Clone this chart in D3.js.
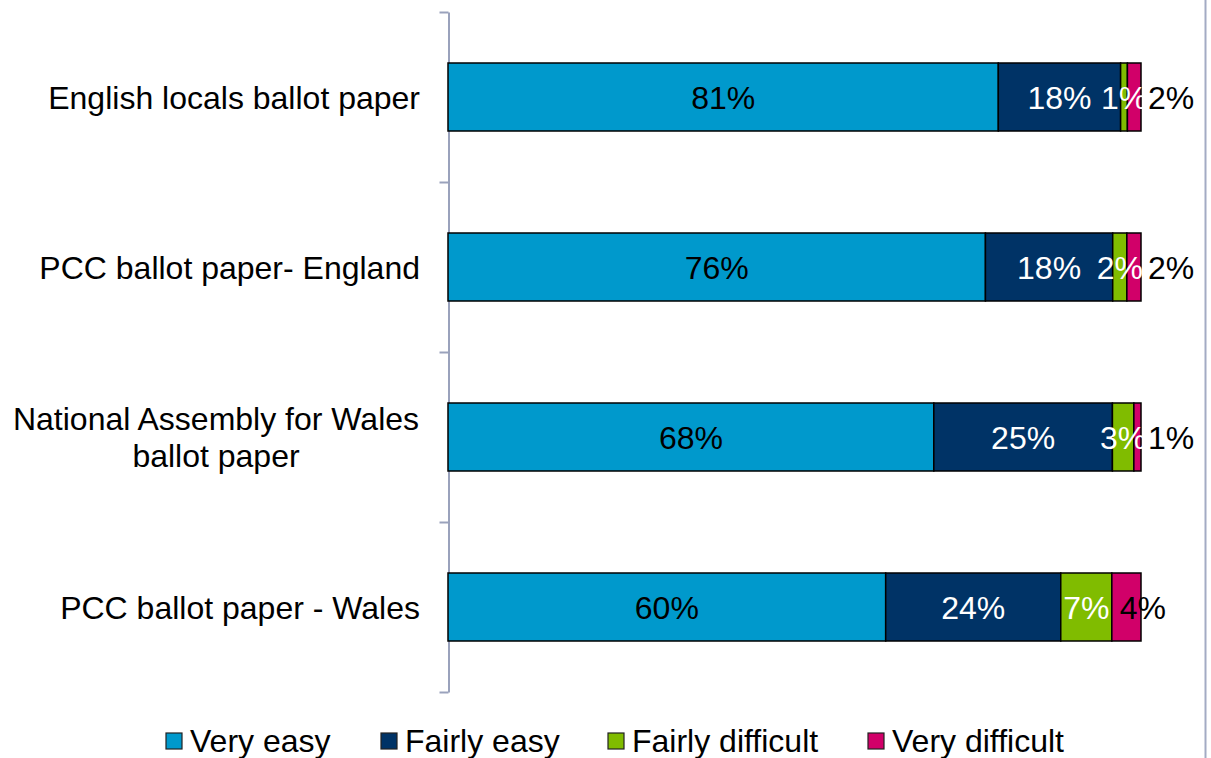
<!DOCTYPE html>
<html><head><meta charset="utf-8">
<script src="https://cdn.jsdelivr.net/npm/d3@7"></script>
<style>html,body{margin:0;padding:0;background:#fff;}svg{display:block;font-family:"Liberation Sans",Arial,sans-serif;}</style>
</head><body>
<svg id="chart" width="1211" height="758"></svg>
<script>
const categories = ["English locals ballot paper", "PCC ballot paper- England", "National Assembly for Wales ballot paper", "PCC ballot paper - Wales"];
const seriesNames = ["Very easy", "Fairly easy", "Fairly difficult", "Very difficult"];
const veryEasy = [81, 76, 68, 60];
const fairlyEasy = [18, 18, 25, 24];
const fairlyDifficult = [1, 2, 3, 7];
const veryDifficult = [2, 2, 1, 4];
const colors = ["#0099cc", "#003366", "#80bc00", "#d10069"];
const labelColors = ["#000", "#fff", "#fff", "#000"];

const seriesValues = [veryEasy, fairlyEasy, fairlyDifficult, veryDifficult];
const rows = categories.map((c, i) => {
  const r = {category: c};
  seriesNames.forEach((s, j) => r[s] = seriesValues[j][i]);
  return r;
});
const stack = d3.stack().keys(seriesNames).offset(d3.stackOffsetExpand);
const stacked = stack(rows);

const svg = d3.select("#chart");
const x = d3.scaleLinear().domain([0, 1]).range([448, 1141]);
const y = d3.scaleBand().domain(categories).range([12, 692]).paddingInner(0.6).paddingOuter(0.3);
const fs = 32;

// right border
svg.append("line").attr("x1", 1205.5).attr("x2", 1205.5).attr("y1", 0).attr("y2", 758)
  .attr("stroke", "#a3abc4").attr("stroke-width", 2);

// axis
const yTick = d3.scaleLinear().domain([0, categories.length]).range([12, 692]);
const axisG = svg.append("g").attr("transform", "translate(448.5,0)")
  .call(d3.axisLeft(yTick).tickValues(d3.range(0, categories.length + 1)).tickSize(9).tickSizeOuter(0).tickFormat(""));
axisG.selectAll("path,line").attr("stroke", "#9aa2bc").attr("stroke-width", 2);

// bars
const layers = svg.append("g").selectAll("g").data(stacked).join("g").attr("fill", (d, i) => colors[i]);
layers.selectAll("rect").data(d => d).join("rect")
  .attr("x", d => x(d[0]))
  .attr("y", d => y(d.data.category))
  .attr("width", d => x(d[1]) - x(d[0]))
  .attr("height", y.bandwidth())
  .attr("stroke", "#000").attr("stroke-width", 1.5);

// labels
stacked.forEach((layer, li) => {
  layer.forEach((d) => {
    const val = d.data[layer.key];
    const x0 = x(d[0]), x1 = x(d[1]);
    const cy = y(d.data.category) + y.bandwidth() / 2;
    const t = svg.append("text").attr("y", cy).attr("dy", "0.36em").attr("font-size", fs)
      .attr("fill", labelColors[li]).text(val + "%");
    if (li === seriesNames.length - 1) {
      const xs = (x1 - x0) >= 25 ? x0 + 8 : x(1) + 7;
      t.attr("x", xs).attr("text-anchor", "start");
    } else {
      t.attr("x", (x0 + x1) / 2).attr("text-anchor", "middle");
    }
  });
});

// category labels
const wrapMap = {"National Assembly for Wales ballot paper": ["National Assembly for Wales", "ballot paper"]};
categories.forEach(c => {
  const lines = wrapMap[c] || [c];
  const cy = y(c) + y.bandwidth() / 2;
  const lh = 37;
  const t = svg.append("text").attr("text-anchor", "middle").attr("font-size", fs).attr("fill", "#000");
  if (lines.length === 1) {
    t.attr("text-anchor", "end").append("tspan").attr("x", 420).attr("y", cy).attr("dy", "0.36em").text(lines[0]);
  } else {
    lines.forEach((l, k) => {
      t.append("tspan").attr("x", 216).attr("y", cy + (k - (lines.length - 1) / 2) * lh).attr("dy", "0.36em").text(l);
    });
  }
});

// legend
const legendX = [166, 381, 608, 868];
const lg = svg.append("g");
seriesNames.forEach((s, i) => {
  lg.append("rect").attr("x", legendX[i]).attr("y", 733).attr("width", 16).attr("height", 16)
    .attr("fill", colors[i]).attr("stroke", "#222").attr("stroke-width", 1.2);
  lg.append("text").attr("x", legendX[i] + 24).attr("y", 740).attr("dy", "0.36em")
    .attr("font-size", fs).attr("fill", "#000").text(s);
});
</script>
</body></html>
